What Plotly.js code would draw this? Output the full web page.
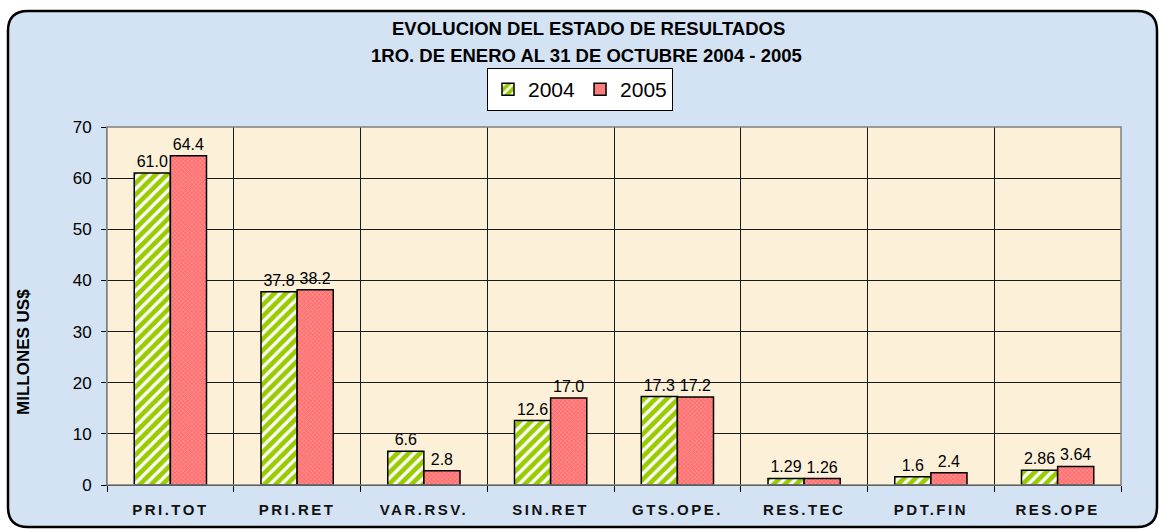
<!DOCTYPE html>
<html>
<head>
<meta charset="utf-8">
<script src="https://cdn.plot.ly/plotly-3.0.1.min.js"></script>
<style>
  html, body { margin: 0; padding: 0; background: #ffffff; }
  #chart { width: 1159px; height: 529px; }
  .xtick text { letter-spacing: 2.5px; }
</style>
</head>
<body>
<div id="chart"></div>
<script>
// ---- data ----
const categories = ["PRI.TOT", "PRI.RET", "VAR.RSV.", "SIN.RET", "GTS.OPE.", "RES.TEC", "PDT.FIN", "RES.OPE"];
const values2004 = [61.0, 37.8, 6.6, 12.6, 17.3, 1.29, 1.6, 2.86];
const values2005 = [64.4, 38.2, 2.8, 17.0, 17.2, 1.26, 2.4, 3.64];
const labels2004 = ["61.0", "37.8", "6.6", "12.6", "17.3", "1.29", "1.6", "2.86"];
const labels2005 = ["64.4", "38.2", "2.8", "17.0", "17.2", "1.26", "2.4", "3.64"];
const seriesNames = ["2004", "2005"];
const titleLine1 = "EVOLUCION DEL ESTADO DE RESULTADOS";
const titleLine2 = "1RO. DE ENERO AL 31 DE OCTUBRE 2004 - 2005";
const yTitle = "MILLONES US$";

// ---- layout geometry (pixels) ----
const W = 1159, H = 529;
const M = {l: 107, r: 38, t: 127, b: 44};
const PW = W - M.l - M.r, PH = H - M.t - M.b;
const X = px => (px - M.l) / PW;
const Y = py => (H - M.b - py) / PH;

const FONT = "Liberation Sans, Arial, sans-serif";

// rounded frame path in paper coords
function roundRect(x0, y0, x1, y1, r) {
  return `M ${X(x0 + r)} ${Y(y0)} L ${X(x1 - r)} ${Y(y0)} Q ${X(x1)} ${Y(y0)} ${X(x1)} ${Y(y0 + r)} ` +
         `L ${X(x1)} ${Y(y1 - r)} Q ${X(x1)} ${Y(y1)} ${X(x1 - r)} ${Y(y1)} ` +
         `L ${X(x0 + r)} ${Y(y1)} Q ${X(x0)} ${Y(y1)} ${X(x0)} ${Y(y1 - r)} ` +
         `L ${X(x0)} ${Y(y0 + r)} Q ${X(x0)} ${Y(y0)} ${X(x0 + r)} ${Y(y0)} Z`;
}

const trace2004 = {
  type: "bar", name: seriesNames[0], x: categories, y: values2004,
  text: labels2004, textposition: "outside", cliponaxis: false,
  textfont: {family: FONT, size: 16, color: "#000"},
  marker: {
    color: "#99CC00",
    line: {color: "#000", width: 1.5},
    pattern: {shape: "/", bgcolor: "#99CC00", fgcolor: "#ffffff", size: 8, solidity: 0.4}
  },
  hoverinfo: "x+y"
};
const trace2005 = {
  type: "bar", name: seriesNames[1], x: categories, y: values2005,
  text: labels2005, textposition: "outside", cliponaxis: false,
  textfont: {family: FONT, size: 16, color: "#000"},
  marker: {
    color: "#FF6F6F",
    line: {color: "#000", width: 1.5},
    pattern: {shape: "x", bgcolor: "#FF6F6F", fgcolor: "#FFB4B4", size: 3, solidity: 0.25}
  },
  hoverinfo: "x+y"
};

const layout = {
  width: W, height: H,
  margin: M,
  paper_bgcolor: "#ffffff",
  plot_bgcolor: "rgba(0,0,0,0)",
  barmode: "group",
  bargap: 0.43,
  bargroupgap: 0,
  font: {family: FONT, color: "#000"},
  showlegend: true,
  legend: {
    orientation: "h", x: X(487), y: Y(68), xanchor: "left", yanchor: "top",
    bgcolor: "#ffffff", bordercolor: "#000", borderwidth: 1,
    font: {family: FONT, size: 21, color: "#000"},
    traceorder: "normal", itemwidth: 30
  },
  xaxis: {
    type: "category",
    tickson: "boundaries",
    ticks: "outside", ticklen: 6, tickcolor: "#000", tickwidth: 1,
    showgrid: true, gridcolor: "#1a1a1a", gridwidth: 1,
    showline: true, linecolor: "#000", linewidth: 1,
    tickfont: {family: FONT, size: 15, color: "#111"},
    ticklabelstandoff: 11,
    tickprefix: "<b>", ticksuffix: "</b>",
    fixedrange: true
  },
  yaxis: {
    range: [0, 70], dtick: 10, tick0: 0,
    ticks: "outside", ticklen: 5, tickcolor: "#000", tickwidth: 1,
    showgrid: true, gridcolor: "#1a1a1a", gridwidth: 1,
    showline: true, linecolor: "#808080", linewidth: 1,
    zeroline: false,
    tickfont: {family: FONT, size: 17, color: "#000"},
    ticklabelstandoff: 6,
    fixedrange: true
  },
  shapes: [
    {type: "path", xref: "paper", yref: "paper", layer: "below",
     path: roundRect(8, 11, 1157, 527, 20),
     fillcolor: "#D3E3F3", line: {color: "#000", width: 2.5}},
    {type: "rect", xref: "paper", yref: "paper", layer: "below",
     x0: 0, x1: 1, y0: 0, y1: 1,
     fillcolor: "#FCF0D9", line: {width: 0}},
    {type: "rect", xref: "paper", yref: "paper", layer: "above",
     x0: 0, x1: 1, y0: 0, y1: 1,
     fillcolor: "rgba(0,0,0,0)", line: {color: "#808080", width: 1.5}}
  ],
  annotations: [
    {xref: "paper", yref: "paper", x: X(588), y: Y(28), xanchor: "center", yanchor: "middle",
     text: "<b>" + titleLine1 + "</b>", showarrow: false,
     font: {family: FONT, size: 18.5, color: "#000"}},
    {xref: "paper", yref: "paper", x: X(586), y: Y(55), xanchor: "center", yanchor: "middle",
     text: "<b>" + titleLine2 + "</b>", showarrow: false,
     font: {family: FONT, size: 18.5, color: "#000"}},
    {xref: "paper", yref: "paper", x: X(23), y: Y(352), xanchor: "center", yanchor: "middle",
     text: "<b>" + yTitle + "</b>", textangle: -90, showarrow: false,
     font: {family: FONT, size: 17, color: "#000"}}
  ]
};

Plotly.newPlot("chart", [trace2004, trace2005], layout, {displayModeBar: false, staticPlot: true});
</script>
</body>
</html>
